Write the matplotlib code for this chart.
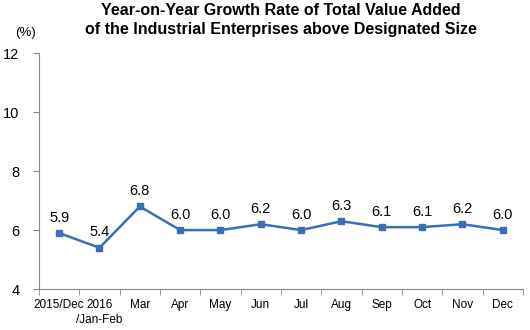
import matplotlib.pyplot as plt
import numpy as np

plt.rcParams['font.family'] = ['Liberation Sans', 'DejaVu Sans']

months = ['2015/Dec', '2016\n/Jan-Feb', 'Mar', 'Apr', 'May', 'Jun', 'Jul',
          'Aug', 'Sep', 'Oct', 'Nov', 'Dec']
growth = [5.9, 5.4, 6.8, 6.0, 6.0, 6.2, 6.0, 6.3, 6.1, 6.1, 6.2, 6.0]

fig = plt.figure(figsize=(5.3, 3.3), dpi=100)
ax = fig.add_axes([0.0736, 0.124, 0.913, 0.715])

x = np.arange(len(months))
color = '#3A6EB5'
ax.plot(x, growth, color=color, lw=1.8, marker='s', ms=4.5, mfc=color, mec=color)

for xi, v in zip(x, growth):
    ax.annotate(f'{v:.1f}', (xi, v), xytext=(0, 6), textcoords='offset points',
                ha='center', va='bottom', fontsize=10.5)

ax.set_xlim(-0.5, len(months) - 0.5)
ax.set_ylim(4, 12)
ax.set_yticks([4, 6, 8, 10, 12])
ax.set_xticks(x)
ax.set_xticklabels(months, fontsize=8.5, linespacing=1.3)
ax.set_xticks(np.arange(-0.5, len(months), 1), minor=True)
ax.tick_params(axis='x', which='major', length=0, pad=7)
ax.tick_params(axis='x', which='minor', length=4, color='#888888')
ax.tick_params(axis='y', labelsize=10.5, length=4, color='#888888', pad=10)

for s in ['top', 'right']:
    ax.spines[s].set_visible(False)
for s in ['left', 'bottom']:
    ax.spines[s].set_color('#888888')

fig.text(0.53, 0.99, 'Year-on-Year Growth Rate of Total Value Added\n'
         'of the Industrial Enterprises above Designated Size',
         ha='center', va='top', fontsize=11.5, fontweight='bold', linespacing=1.3)
fig.text(0.028, 0.9, '(%)', fontsize=9.5, va='center')

fig.savefig('out.png', dpi=100)
